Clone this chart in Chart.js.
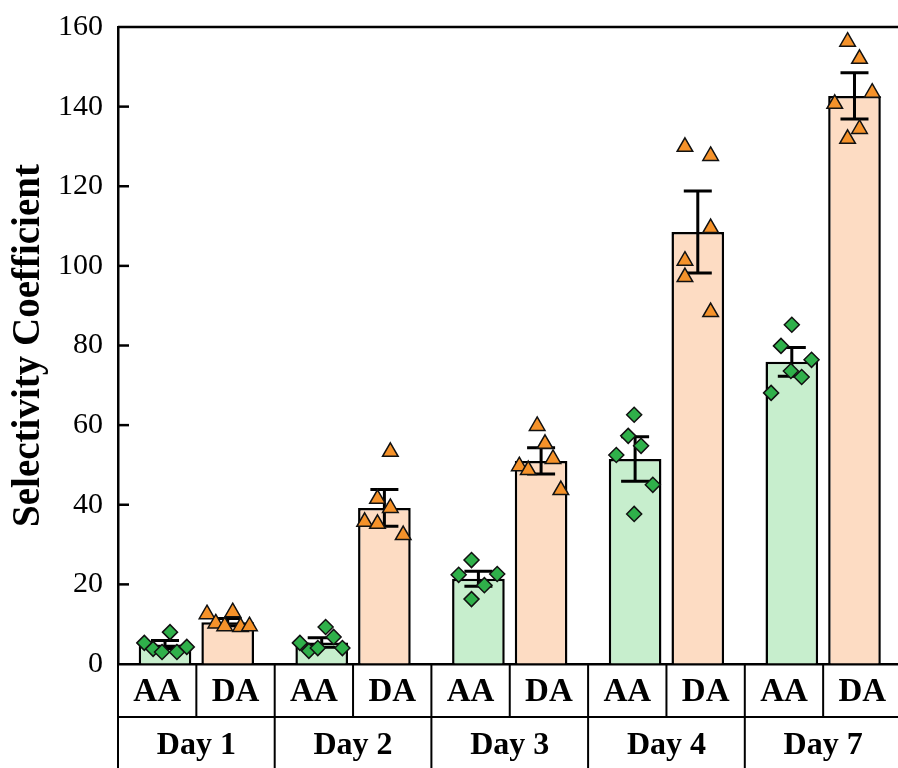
<!DOCTYPE html>
<html>
<head>
<meta charset="utf-8">
<script src="https://cdn.jsdelivr.net/npm/chart.js@4.4.1/dist/chart.umd.min.js"></script>
<style>
  html, body { margin: 0; padding: 0; background: #fff; overflow: hidden; }
  #wrap { width: 912px; height: 768px; position: relative; }
</style>
</head>
<body>
<div id="wrap"><canvas id="chart"></canvas></div>
<script>
const days = ['Day 1', 'Day 2', 'Day 3', 'Day 4', 'Day 7'];
const groups = ['AA', 'DA'];
const yTicks = [0, 20, 40, 60, 80, 100, 120, 140, 160];

// bar heights (means) and error bar half-lengths
const aaMean = [4.9, 5.4, 21.4, 51.5, 75.9];
const aaErr = [1.0, 1.2, 1.9, 5.6, 3.6];
const daMean = [10.5, 39.2, 51.0, 108.5, 142.7];
const daErr = [0.9, 4.6, 3.3, 10.3, 5.8];

// individual replicates per day
const aaPoints = [
  [5.3, 3.8, 3.0, 8.0, 3.0, 4.3],
  [5.3, 3.3, 4.0, 9.3, 6.8, 4.0],
  [22.4, 26.1, 22.6, 19.8, 16.3],
  [62.6, 57.3, 54.8, 52.5, 45.0, 37.7],
  [85.2, 79.9, 76.4, 73.6, 72.1, 68.1]
];
const aaJitter = [
  [-0.132, -0.076, -0.019, 0.032, 0.076, 0.139],
  [-0.139, -0.082, -0.025, 0.025, 0.076, 0.132],
  [-0.126, -0.044, 0.12, 0.038, -0.044],
  [-0.006, -0.044, 0.038, -0.12, 0.113, -0.006],
  [0, -0.069, 0.126, -0.006, 0.063, -0.132]
];
const daPoints = [
  [12.5, 10.2, 9.5, 13.0, 9.3, 9.5],
  [53.3, 41.5, 39.2, 35.7, 35.2, 32.4],
  [59.8, 55.3, 51.5, 49.7, 48.7, 43.7],
  [129.9, 127.6, 109.5, 101.3, 97.2, 88.4],
  [156.3, 152.0, 143.5, 140.7, 134.4, 131.9]
];
const daJitter = [
  [-0.132, -0.076, -0.019, 0.032, 0.082, 0.139],
  [0.038, -0.044, 0.038, -0.126, -0.044, 0.12],
  [-0.025, 0.025, 0.076, -0.139, -0.082, 0.126],
  [-0.082, 0.082, 0.082, -0.082, -0.082, 0.082],
  [-0.044, 0.032, 0.113, -0.126, 0.032, -0.044]
];

const serif = "'Liberation Serif', 'Times New Roman', serif";
const shift = 0.2; // AA left of the day centre, DA right of it

function barXY(means, off) {
  return means.map((v, i) => ({ x: i + off, y: v }));
}

function toXY(points, jitter, off) {
  const out = [];
  points.forEach((vals, i) => {
    vals.forEach((v, k) => out.push({ x: i + off + jitter[i][k], y: v }));
  });
  return out;
}

const errorBars = {
  id: 'errorBars',
  afterDatasetDraw(chart, args) {
    const ds = chart.data.datasets[args.index];
    if (!ds.err) return;
    const y = chart.scales.y;
    const ctx = chart.ctx;
    ctx.save();
    ctx.strokeStyle = '#000';
    ctx.lineWidth = 3;
    args.meta.data.forEach((bar, i) => {
      const top = y.getPixelForValue(ds.data[i].y + ds.err[i]);
      const bot = y.getPixelForValue(ds.data[i].y - ds.err[i]);
      ctx.beginPath();
      ctx.moveTo(bar.x, top); ctx.lineTo(bar.x, bot);
      ctx.moveTo(bar.x - 14, top); ctx.lineTo(bar.x + 14, top);
      ctx.moveTo(bar.x - 14, bot); ctx.lineTo(bar.x + 14, bot);
      ctx.stroke();
    });
    ctx.restore();
  }
};

const frameAndTable = {
  id: 'frameAndTable',
  afterDraw(chart) {
    const { ctx, chartArea: a, scales: { x, y } } = chart;
    ctx.save();
    ctx.strokeStyle = '#000';
    // top frame
    ctx.lineWidth = 2.5;
    ctx.beginPath();
    ctx.moveTo(a.left, a.top); ctx.lineTo(a.right + 2, a.top);
    ctx.stroke();
    // inward y ticks
    yTicks.slice(1, -1).forEach(t => {
      const py = y.getPixelForValue(t);
      ctx.beginPath();
      ctx.moveTo(a.left, py); ctx.lineTo(a.left + 11, py);
      ctx.stroke();
    });
    // table below the axis
    const row1 = a.bottom + 53;
    const row2 = chart.height;
    ctx.lineWidth = 2;
    ctx.beginPath();
    ctx.moveTo(a.left, row1); ctx.lineTo(chart.width, row1);
    ctx.stroke();
    ctx.fillStyle = '#000';
    ctx.textAlign = 'center';
    ctx.textBaseline = 'middle';
    days.forEach((d, i) => {
      const left = x.getPixelForValue(i - 0.5);
      const mid = x.getPixelForValue(i);
      const right = x.getPixelForValue(i + 0.5);
      ctx.beginPath();
      ctx.moveTo(left, a.bottom); ctx.lineTo(left, row2);
      ctx.moveTo(mid, a.bottom); ctx.lineTo(mid, row1);
      ctx.stroke();
      ctx.font = 'bold 33px ' + serif;
      ctx.fillText(groups[0], (left + mid) / 2, a.bottom + 28);
      ctx.fillText(groups[1], (mid + right) / 2, a.bottom + 28);
      ctx.font = 'bold 32px ' + serif;
      ctx.fillText(d, mid, row1 + 29);
    });
    ctx.restore();
  }
};

new Chart(document.getElementById('chart'), {
  type: 'bar',
  data: {
    datasets: [
      {
        label: 'AA', data: barXY(aaMean, -shift), err: aaErr, order: 1, grouped: false,
        backgroundColor: '#c7eecd', borderColor: '#000', borderWidth: 2.5,
        borderSkipped: 'bottom', categoryPercentage: 1, barPercentage: 0.84
      },
      {
        label: 'DA', data: barXY(daMean, shift), err: daErr, order: 1, grouped: false,
        backgroundColor: '#fddcc3', borderColor: '#000', borderWidth: 2.5,
        borderSkipped: 'bottom', categoryPercentage: 1, barPercentage: 0.84
      },
      {
        type: 'scatter', label: 'AA points', order: 0,
        data: toXY(aaPoints, aaJitter, -shift),
        pointStyle: 'rectRot', pointRadius: 7.5, backgroundColor: '#2fb04a',
        borderColor: '#111', borderWidth: 1.5
      },
      {
        type: 'scatter', label: 'DA points', order: 0,
        data: toXY(daPoints, daJitter, shift),
        pointStyle: 'triangle', pointRadius: 9, backgroundColor: '#f5922a',
        borderColor: '#111', borderWidth: 1.5
      }
    ]
  },
  options: {
    responsive: true,
    maintainAspectRatio: false,
    animation: false,
    layout: { padding: { top: 27, bottom: 104, left: 0, right: 1 } },
    plugins: { legend: { display: false }, tooltip: { enabled: false } },
    scales: {
      x: {
        type: 'linear', min: -0.5, max: 4.5, offset: false,
        grid: { drawOnChartArea: false, drawTicks: false },
        border: { color: '#000', width: 2.5 },
        ticks: { display: false, stepSize: 1 },
        afterFit: s => { s.height = 0; s.paddingLeft = 0; s.paddingRight = 0; }
      },
      y: {
        min: 0, max: 160,
        afterBuildTicks: s => { s.ticks = yTicks.map(v => ({ value: v })); },
        afterFit: s => { s.width = 118; s.paddingTop = 0; s.paddingBottom = 0; },
        grid: { drawOnChartArea: false, drawTicks: false },
        border: { color: '#000', width: 2.5 },
        ticks: { color: '#000', padding: 15, font: { family: serif, size: 30 } },
        title: {
          display: true, text: 'Selectivity Coefficient', color: '#000',
          padding: { top: 6, bottom: 0 },
          font: { family: serif, size: 39, weight: 'bold' }
        }
      }
    }
  },
  plugins: [errorBars, frameAndTable]
});
</script>
</body>
</html>
